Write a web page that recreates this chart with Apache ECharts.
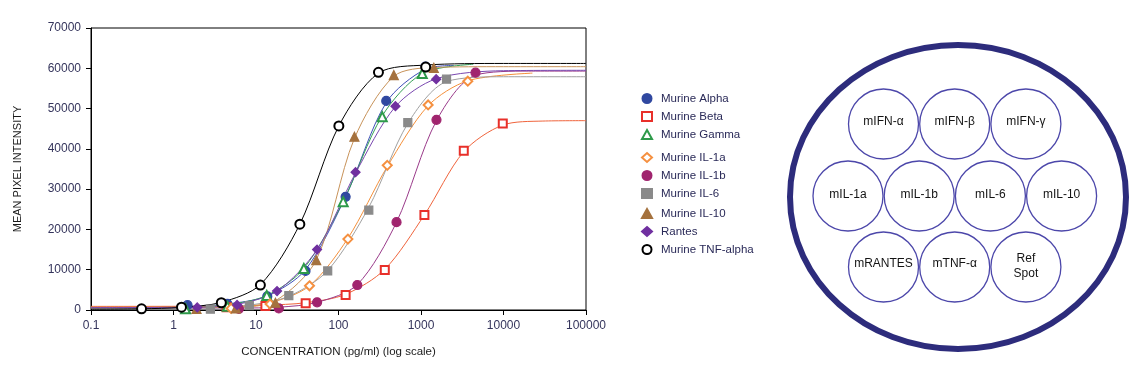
<!DOCTYPE html>
<html>
<head>
<meta charset="utf-8">
<script src="https://cdn.jsdelivr.net/npm/echarts@6/dist/echarts.min.js"></script>
<style>
html,body{margin:0;padding:0;background:#fff;}
#chart{width:1136px;height:365px;}
</style>
</head>
<body>
<div id="chart"></div>
<script>
// ---- tick labels ----
const xTickLabels = ['0.1', '1', '10', '100', '1000', '10000', '100000'];
const yTickLabels = ['0', '10000', '20000', '30000', '40000', '50000', '60000', '70000'];

// ---- series names ----
const seriesNames = ['Murine Alpha', 'Murine Beta', 'Murine Gamma', 'Murine IL-1a', 'Murine IL-1b',
  'Murine IL-6', 'Murine IL-10', 'Rantes', 'Murine TNF-alpha'];

// ---- measured points [concentration pg/ml, mean pixel intensity] ----
const alphaPts = [[1.48, 1200], [4.5, 1500], [13.7, 3400], [39.8, 9700], [122, 28100], [379, 51900], [1135, 60400]];
const betaPts = [[4.4, 700], [13, 1000], [40, 1700], [122, 3700], [364, 9900], [1100, 23600], [3300, 39500], [9800, 46300]];
const gammaPts = [[1.4, 300], [4.5, 900], [13.5, 3600], [38, 10300], [114, 26900], [339, 48000], [1035, 58700]];
const il1aPts = [[5, 400], [14.8, 1500], [44.5, 6000], [130, 17600], [390, 35900], [1220, 50900], [3690, 56800]];
const il1bPts = [[6.2, 300], [18.9, 400], [55, 1900], [169, 6200], [505, 21800], [1540, 47200], [4580, 58900]];
const il6Pts = [[2.8, 200], [8.3, 1100], [25, 3550], [74, 9700], [233, 24800], [692, 46500], [2040, 57300]];
const il10Pts = [[1.9, 300], [5.7, 400], [17.2, 1800], [53.7, 12400], [156, 43000], [468, 58300], [1430, 60100]];
const rantesPts = [[1.94, 650], [5.9, 1250], [18, 4700], [55, 15000], [161, 34200], [490, 50600], [1528, 57300]];
const tnfPts = [[0.41, 300], [1.25, 700], [3.8, 1800], [11.3, 6200], [34, 21300], [101, 45700], [305, 59000], [1140, 60300]];

// ---- fitted curves [concentration, intensity] ----
const alphaFit = [[0.1, 700], [1.48, 900], [4.5, 1500], [13.7, 3500], [39.8, 10000], [122, 28100], [379, 51500], [1135, 59800], [2500, 60700]];
const betaFit = [[0.1, 900], [4.4, 950], [13, 1200], [40, 1800], [122, 3900], [364, 10100], [1100, 23600], [3300, 39300], [9800, 45900], [30000, 46900], [100000, 47000]];
const gammaFit = [[0.1, 500], [1.4, 700], [4.5, 1300], [13.5, 3600], [38, 10300], [114, 27000], [339, 48200], [1035, 58700], [4300, 61000]];
const il1aFit = [[0.1, 700], [5, 800], [14.8, 1800], [44.5, 6000], [130, 17800], [390, 35600], [1220, 50700], [3690, 56900], [22400, 58800]];
const il1bFit = [[0.1, 500], [6.2, 500], [18.9, 700], [55, 1900], [169, 6300], [505, 21800], [1540, 47000], [4580, 58300], [20000, 59300], [100000, 59300]];
const il6Fit = [[0.1, 400], [2.8, 500], [8.3, 1200], [25, 3400], [74, 9800], [233, 25500], [692, 46300], [2040, 56700], [10000, 57900], [100000, 57900]];
const il10Fit = [[0.1, 600], [5.7, 700], [17.2, 2300], [53.7, 12400], [156, 42600], [468, 58000], [1430, 60200], [10000, 60400], [100000, 60400]];
const rantesFit = [[0.1, 600], [1.94, 700], [5.9, 1400], [18, 4700], [55, 15000], [161, 34000], [490, 50500], [1528, 57400], [10000, 59400], [100000, 59500]];
const tnfFit = [[0.1, 200], [0.41, 300], [1.25, 650], [3.8, 1900], [11.3, 6300], [34, 21300], [101, 45700], [305, 58800], [1140, 60800], [10000, 61200], [100000, 61200]];

// ---- array spot labels (diagram) ----
const spotRow1 = ['mIFN-α', 'mIFN-β', 'mIFN-γ'];
const spotRow2 = ['mIL-1a', 'mIL-1b', 'mIL-6', 'mIL-10'];
const spotRow3 = ['mRANTES', 'mTNF-α', 'Ref\nSpot'];

const pts = [alphaPts, betaPts, gammaPts, il1aPts, il1bPts, il6Pts, il10Pts, rantesPts, tnfPts];
const fits = [alphaFit, betaFit, gammaFit, il1aFit, il1bFit, il6Fit, il10Fit, rantesFit, tnfFit];

const styles = [
  {symbol: 'circle', size: 9, mark: '#3048a0', line: '#4050b8'},
  {symbol: 'emptyRect', size: 8, mark: '#e8302a', line: '#f0643c'},
  {symbol: 'emptyTriangle', size: 9, mark: '#2e9a4a', line: '#34a055'},
  {symbol: 'emptyDiamond', size: 9, mark: '#f59040', line: '#f5903a'},
  {symbol: 'circle', size: 9, mark: '#a0246e', line: '#9a3a8a'},
  {symbol: 'rect', size: 8, mark: '#8a8a8a', line: '#a0a0a0'},
  {symbol: 'triangle', size: 9, mark: '#a5723e', line: '#c8935a'},
  {symbol: 'diamond', size: 9, mark: '#7030a0', line: '#7a48b0'},
  {symbol: 'emptyCircle', size: 9, mark: '#000000', line: '#000000'}
];

const series = [];
fits.forEach((f, i) => {
  const st = styles[i];
  series.push({
    name: seriesNames[i] + ' fit', type: 'line', data: f,
    smooth: 0.3, showSymbol: false, symbol: 'none',
    lineStyle: {color: st.line, width: 1}, z: 2, silent: true
  });
});
pts.forEach((p, i) => {
  const st = styles[i];
  series.push({
    name: seriesNames[i], type: 'scatter', data: p, symbol: st.symbol, symbolSize: st.size,
    itemStyle: {color: st.mark, borderColor: st.mark, borderWidth: 1.2, opacity: 1}, z: 3
  });
});

// diagram graphics
const gfx = [];
const R = 35;
gfx.push({type: 'ellipse', shape: {cx: 958, cy: 197, rx: 168, ry: 152},
  style: {fill: 'none', stroke: '#2d2c7c', lineWidth: 6}, silent: true});
const rows = [
  {labels: spotRow1, x0: 883.5, y: 124, dy: -2},
  {labels: spotRow2, x0: 848, y: 196, dy: -1},
  {labels: spotRow3, x0: 883.5, y: 267, dy: -3}
];
rows.forEach(r => {
  r.labels.forEach((lab, j) => {
    const cx = r.x0 + j * 71.2;
    gfx.push({type: 'circle', shape: {cx: cx, cy: r.y, r: R},
      style: {fill: '#fff', stroke: '#4c47aa', lineWidth: 1.3}, silent: true});
    gfx.push({type: 'text', x: cx, y: r.y + (lab.indexOf('\n') >= 0 ? -1 : r.dy),
      style: {text: lab, align: 'center', verticalAlign: 'middle', textAlign: 'center', textVerticalAlign: 'middle',
        fontSize: 12, fontFamily: 'Liberation Sans, Arial, sans-serif', fill: '#141414', lineHeight: 15}, silent: true});
  });
});

const legendBase = {
  orient: 'vertical', left: 636, itemWidth: 10, itemHeight: 9, itemGap: 6,
  textStyle: {fontSize: 11.5, fontFamily: 'Liberation Sans, Arial, sans-serif', color: '#2a2a58', padding: [0, 0, 0, 4]}
};

const chart = echarts.init(document.getElementById('chart'), null, {renderer: 'canvas'});
chart.setOption({
  animation: false,
  backgroundColor: '#fff',
  grid: {left: 91, top: 28, width: 495, height: 282, show: true, borderColor: '#000', borderWidth: 1, containLabel: false},
  legend: [
    Object.assign({}, legendBase, {top: 87.5, data: seriesNames.slice(0, 3)}),
    Object.assign({}, legendBase, {top: 146.5, data: seriesNames.slice(3, 6)}),
    Object.assign({}, legendBase, {top: 202.5, data: seriesNames.slice(6, 9)})
  ],
  xAxis: {
    type: 'log', logBase: 10, min: 0.1, max: 100000,
    name: 'CONCENTRATION (pg/ml) (log scale)', nameLocation: 'middle', nameGap: 36,
    nameTextStyle: {fontSize: 11.5, fontFamily: 'Liberation Sans, Arial, sans-serif', color: '#1a1a1a'},
    axisLine: {lineStyle: {color: '#000', width: 1}},
    axisTick: {show: true, length: 5, lineStyle: {color: '#000'}},
    axisLabel: {fontSize: 12, fontFamily: 'Liberation Sans, Arial, sans-serif', color: '#35355c', margin: 10,
      formatter: v => xTickLabels[Math.round(Math.log10(v)) + 1]},
    splitLine: {show: false}, minorTick: {show: false}
  },
  yAxis: {
    type: 'value', min: 0, max: 70000, interval: 10000,
    name: 'MEAN PIXEL INTENSITY', nameLocation: 'middle', nameGap: 68, nameRotate: 90,
    nameTextStyle: {fontSize: 11, fontFamily: 'Liberation Sans, Arial, sans-serif', color: '#1a1a1a'},
    axisLine: {show: true, lineStyle: {color: '#000', width: 1}},
    axisTick: {show: true, length: 5, lineStyle: {color: '#000'}},
    axisLabel: {fontSize: 12, fontFamily: 'Liberation Sans, Arial, sans-serif', color: '#35355c', margin: 10,
      formatter: v => yTickLabels[Math.round(v / 10000)]},
    splitLine: {show: false}
  },
  series: series,
  graphic: gfx
});
</script>
</body>
</html>
